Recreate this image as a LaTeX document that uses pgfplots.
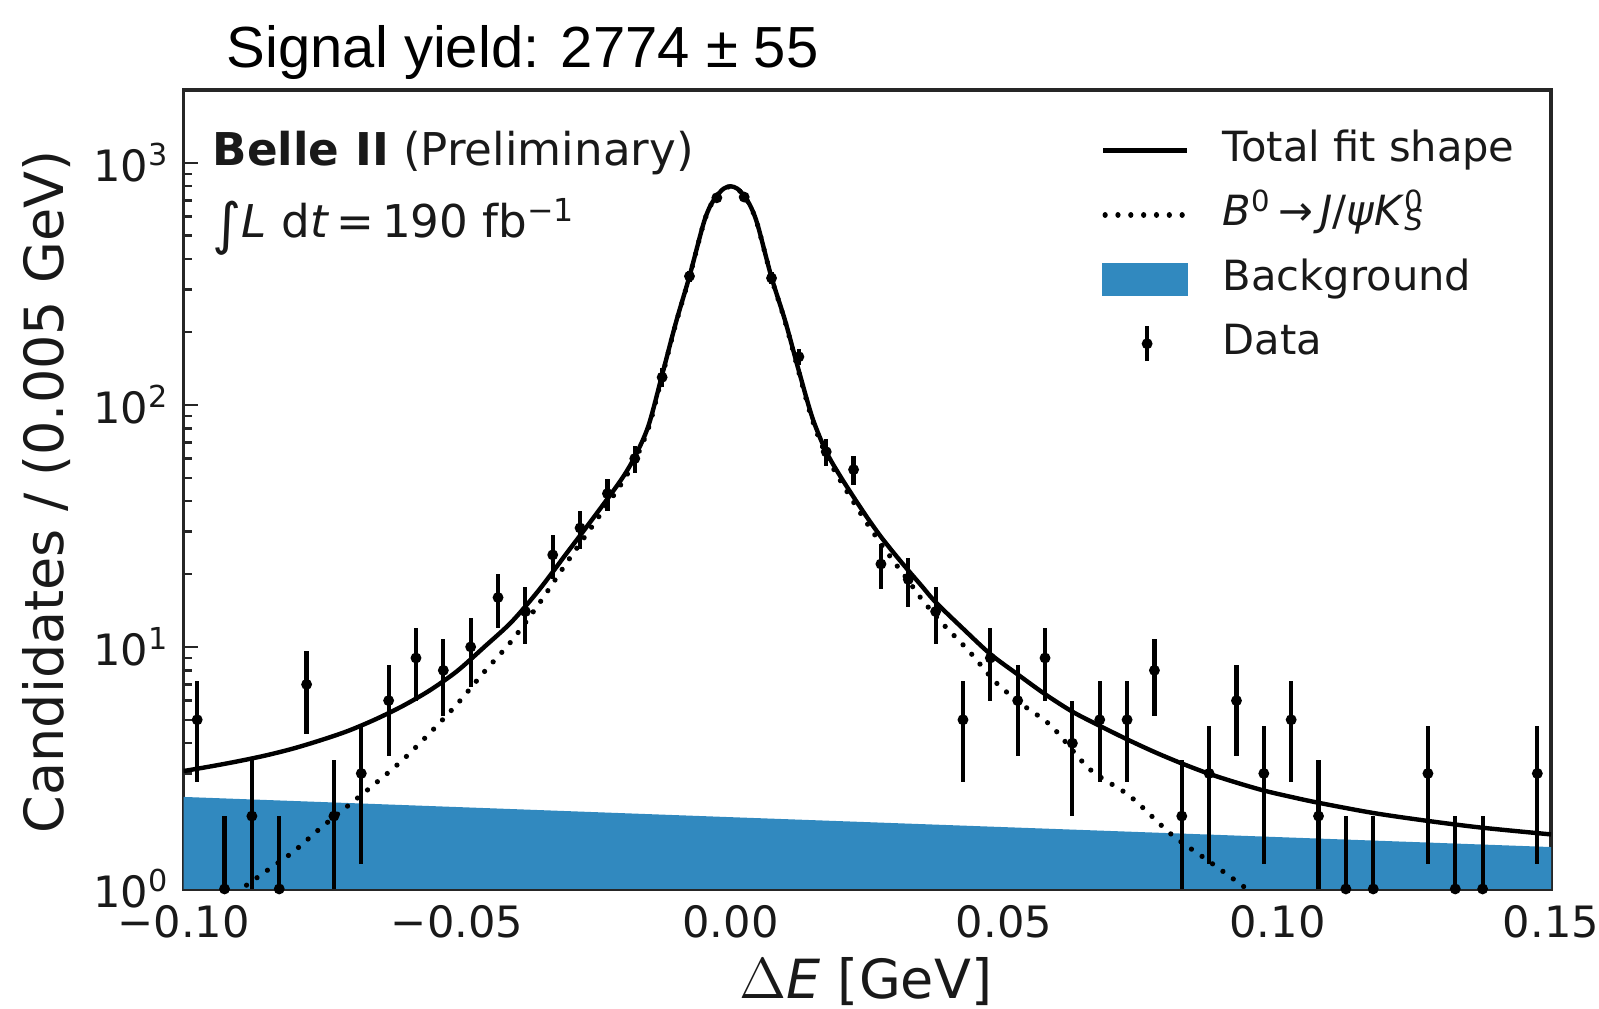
\documentclass[border=0pt]{standalone}
\usepackage{pgfplots}
\pgfplotsset{compat=1.18}
\usepackage{fontspec}
\setmainfont{DejaVu Sans}
\newfontfamily\titlefont{Liberation Sans}
\definecolor{bgblue}{RGB}{49,137,191}
\tikzset{sigdot/.style={black, line width=1.3pt, line cap=round, dash pattern=on 0.01pt off 3.2pt}}

\pgfplotstableread{
x y ep em
-0.0975 5 2.236 2.236
-0.0925 1 1 0.999
-0.0875 2 1.414 1.414
-0.0825 1 1 0.999
-0.0775 7 2.646 2.646
-0.0725 2 1.414 1.414
-0.0675 3 1.732 1.732
-0.0625 6 2.449 2.449
-0.0575 9 3 3
-0.0525 8 2.828 2.828
-0.0475 10 3.162 3.162
-0.0425 16 4 4
-0.0375 14 3.742 3.742
-0.0325 24 4.899 4.899
-0.0275 31 5.568 5.568
-0.0225 43 6.557 6.557
-0.0175 60 7.746 7.746
-0.0125 130 11.40 11.40
-0.0075 340 18.44 18.44
-0.0025 717 26.78 26.78
0.0025 722 26.87 26.87
0.0075 334 18.28 18.28
0.0125 158 12.57 12.57
0.0175 64 8 8
0.0225 54 7.348 7.348
0.0275 22 4.690 4.690
0.0325 19 4.359 4.359
0.0375 14 3.742 3.742
0.0425 5 2.236 2.236
0.0475 9 3 3
0.0525 6 2.449 2.449
0.0575 9 3 3
0.0625 4 2 2
0.0675 5 2.236 2.236
0.0725 5 2.236 2.236
0.0775 8 2.828 2.828
0.0825 2 1.414 1.414
0.0875 3 1.732 1.732
0.0925 6 2.449 2.449
0.0975 3 1.732 1.732
0.1025 5 2.236 2.236
0.1075 2 1.414 1.414
0.1125 1 1 0.999
0.1175 1 1 0.999
0.1275 3 1.732 1.732
0.1325 1 1 0.999
0.1375 1 1 0.999
0.1475 3 1.732 1.732
}\datatab

\pgfplotstableread{
x y
-0.1000 3.07
-0.0950 3.21
-0.0900 3.37
-0.0850 3.56
-0.0800 3.80
-0.0750 4.11
-0.0700 4.49
-0.0650 5.01
-0.0600 5.69
-0.0550 6.61
-0.0500 7.94
-0.0450 10.0
-0.0400 12.7
-0.0350 17.2
-0.0300 24.3
-0.0250 34.3
-0.0200 49.0
-0.0175 61.0
-0.0150 82
-0.0125 133
-0.0100 218
-0.0075 340
-0.0050 555
-0.00375 660
-0.0025 730
-0.00125 782
0.0000 800
0.00125 782
0.0025 730
0.00375 655
0.0050 550
0.0075 336
0.0100 222
0.0125 138
0.0150 88
0.0175 64
0.0200 51
0.0225 41.6
0.0250 34.2
0.0275 28.5
0.0300 24.2
0.0325 20.7
0.0350 17.8
0.0375 15.3
0.0425 11.9
0.0475 9.34
0.0525 7.7
0.0575 6.38
0.0625 5.40
0.0675 4.72
0.0725 4.15
0.0775 3.68
0.0825 3.30
0.0875 2.99
0.0925 2.75
0.0975 2.55
0.1025 2.40
0.1075 2.27
0.1175 2.06
0.1275 1.91
0.1375 1.79
0.1500 1.68
}\totaltab

\pgfplotstableread{
x y
-0.1000 0.68
-0.0950 0.82
-0.0900 0.98
-0.0850 1.18
-0.0800 1.42
-0.0750 1.78
-0.0700 2.20
-0.0650 2.72
-0.0600 3.40
-0.0550 4.40
-0.0500 5.80
-0.0450 7.90
-0.0400 10.6
-0.0350 15.1
-0.0300 22.2
-0.0250 32.2
-0.0200 47.0
-0.0175 59
-0.0150 80
-0.0125 131
-0.0100 216
-0.0075 338
-0.0050 553
-0.00375 658
-0.0025 728
-0.00125 780
0.0000 798
0.00125 780
0.0025 728
0.00375 653
0.0050 548
0.0075 334
0.0100 220
0.0125 136
0.0150 86
0.0175 62
0.0200 49
0.0225 39.6
0.0250 32.3
0.0275 26.7
0.0300 22.3
0.0325 18.8
0.0350 15.7
0.0386 12.6
0.0436 9.6
0.0486 7.1
0.0537 5.7
0.0587 4.7
0.0657 3.12
0.0730 2.42
0.0806 1.68
0.0875 1.30
0.0944 1.00
0.1000 0.80
0.1100 0.55
0.1200 0.38
}\sigtab

\begin{document}
\begin{tikzpicture}
\begin{axis}[
  scale only axis, width=341.875pt, height=199.75pt,
  ymode=log, xmin=-0.1, xmax=0.15, ymin=1, ymax=2000,
  clip mode=individual,
  axis line style={line width=0.8pt, black!85},
  tick align=inside, tick pos=left,
  major tick length=3.6pt, minor tick length=2pt,
  every tick/.style={black!85, line width=0.6pt},
  xtick={-0.1,-0.05,0,0.05,0.1,0.15},
  xticklabels={−0.10,−0.05,0.00,0.05,0.10,0.15},
  minor xtick={-0.09,-0.08,-0.07,-0.06,-0.04,-0.03,-0.02,-0.01,0.01,0.02,0.03,0.04,0.06,0.07,0.08,0.09,0.11,0.12,0.13,0.14},
  ytick={1,10,100,1000},
  yticklabels={10\textsuperscript{0},10\textsuperscript{1},10\textsuperscript{2},10\textsuperscript{3}},
  minor ytick={2,3,4,5,6,7,8,9,20,30,40,50,60,70,80,90,200,300,400,500,600,700,800,900,2000},
  tick label style={font=\fontsize{10.8}{13}\selectfont, text=black!90},
  xticklabel style={yshift=-0.6pt},
  xlabel={$\Delta$\textit{E} [GeV]},
  ylabel={Candidates / (0.005 GeV)},
  label style={font=\fontsize{13.5}{16}\selectfont, text=black!90},
  xlabel style={at={(axis description cs:0.499,-0.1377)}, anchor=base},
  ylabel style={at={(axis description cs:-0.1005,0.497)}, anchor=center},
  legend style={draw=none, fill=none, at={(axis description cs:0.6615,0.9615)}, anchor=north west,
    font=\fontsize{10.4}{12}\selectfont, text=black!90,
    row sep=5.6pt, column sep=8.3pt,
    nodes={inner sep=0pt, text height=8pt, text depth=2.5pt}},
  legend cell align=left,
]
\addplot[fill=bgblue, draw=none, forget plot] coordinates {(-0.1,0.5) (-0.1,2.40) (0,1.98) (0.15,1.49) (0.15,0.5)} -- cycle;
\addplot[sigdot, forget plot, smooth, tension=0.5] table[x=x,y=y] {\sigtab};
\addplot[black, line width=1.1pt, forget plot, smooth, tension=0.5] table[x=x,y=y] {\totaltab};
\addplot[black, only marks, mark=*, mark size=1.15pt, forget plot,
  error bars/.cd, y dir=both, y explicit, error mark=none,
  error bar style={line width=1.05pt, black}]
  table[x=x, y=y, y error plus=ep, y error minus=em] {\datatab};

\addlegendimage{legend image code/.code={\draw[black, line width=1.1pt] (0pt,0pt) -- (21pt,0pt);}}
\addlegendentry{Total fit shape}
\addlegendimage{legend image code/.code={\draw[sigdot] (0.5pt,0pt) -- (21pt,0pt);}}
\addlegendentry{\textit{B}\textsuperscript{0}\,→\,\textit{J}/\textit{ψK}\rlap{\textsuperscript{0}}\raisebox{-0.12em}{\fontsize{7.3}{8}\selectfont\textit{S}}}
\addlegendimage{legend image code/.code={\fill[bgblue] (0pt,-4pt) rectangle (21pt,4pt);}}
\addlegendentry{Background}
\addlegendimage{legend image code/.code={\draw[black, line width=1.05pt] (11pt,-4.35pt) -- (11pt,4.35pt); \fill[black] (11pt,0pt) circle (1.15pt);}}
\addlegendentry{Data}

\node[anchor=base west, font=\fontsize{11.3}{13}\selectfont, text=black!90, inner sep=0pt] at (axis description cs:0.0208,0.905) {\textbf{Belle II} (Preliminary)};
\node[anchor=base west, font=\fontsize{11.3}{13}\selectfont, text=black!90, inner sep=0pt] at (axis description cs:0.0208,0.815) {\raisebox{-0.12em}{\fontsize{14}{14}\selectfont ∫}\textit{L} d\textit{t}\,=\,190 fb\textsuperscript{−1}};
\node[anchor=base west, font=\titlefont\fontsize{14.5}{17}\selectfont, inner sep=0pt] at (axis description cs:0.0311,1.0275) {Signal yield: 2774 ± 55};

\coordinate (bbsw) at (axis description cs:-0.1342,-0.1502);
\coordinate (bbne) at (axis description cs:1.0351,1.1126);
\end{axis}
\pgfresetboundingbox
\path[use as bounding box] (bbsw) rectangle (bbne);
\end{tikzpicture}
\end{document}
